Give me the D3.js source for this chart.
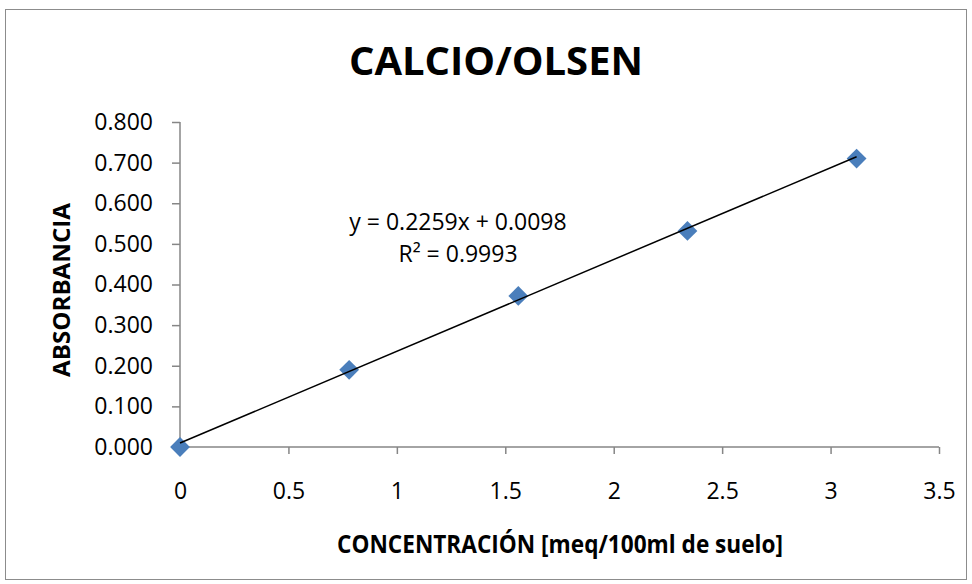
<!DOCTYPE html>
<html>
<head>
<meta charset="utf-8">
<script src="https://cdn.jsdelivr.net/npm/d3@7"></script>
<style>
  body { margin: 0; background: #fff; }
  text { font-family: "Open Sans", "Liberation Sans", sans-serif; fill: #000; }
</style>
</head>
<body>
<svg width="972" height="584"></svg>
<script>
let concentracion = [0, 0.78, 1.56, 2.34, 3.12];
let absorbancia = [0.000, 0.190, 0.372, 0.532, 0.710];
let xTicks = [0, 0.5, 1, 1.5, 2, 2.5, 3, 3.5];
let yTicks = [0, 0.1, 0.2, 0.3, 0.4, 0.5, 0.6, 0.7, 0.8];
let slope = 0.2259, intercept = 0.0098;

let svg = d3.select("svg");

svg.append("rect")
  .attr("x", 5.5).attr("y", 9.5)
  .attr("width", 961).attr("height", 570)
  .attr("fill", "#fff")
  .attr("stroke", "#8c8c8c")
  .attr("stroke-width", 1);

let xScale = d3.scaleLinear().domain([0, 3.5]).range([180, 939]),
  yScale = d3.scaleLinear().domain([0, 0.8]).range([447, 122]);

// title
svg.append("text")
  .attr("x", 496).attr("y", 75)
  .attr("text-anchor", "middle")
  .style("font-size", "40px")
  .style("font-weight", "bold")
  .text("CALCIO/OLSEN");

// axes
let xAxis = svg.append("g")
  .attr("transform", "translate(0," + yScale(0) + ")")
  .call(d3.axisBottom(xScale).tickValues(xTicks).tickSize(7).tickPadding(29).tickFormat(d3.format("")));

let yAxis = svg.append("g")
  .attr("transform", "translate(" + xScale(0) + ",0)")
  .call(d3.axisLeft(yScale).tickValues(yTicks).tickSize(8).tickPadding(19).tickFormat(d3.format(".3f")));

[xAxis, yAxis].forEach(function (ax) {
  ax.select(".domain").attr("stroke", "#868686").attr("stroke-width", 1.5);
  ax.selectAll(".tick line").attr("stroke", "#868686").attr("stroke-width", 1.5);
  ax.selectAll(".tick text")
    .style("font-size", "23px")
    .style("font-family", "'Open Sans', sans-serif")
    .attr("fill", "#000");
});
// plain domain lines, no outer ticks
xAxis.select(".domain").attr("d", "M" + xScale(0) + ",0H" + xScale(3.5));
yAxis.select(".domain").attr("d", "M0," + yScale(0) + "V" + yScale(0.8));

// axis titles
svg.append("text")
  .attr("x", 560).attr("y", 553)
  .attr("text-anchor", "middle")
  .attr("textLength", 446)
  .attr("lengthAdjust", "spacingAndGlyphs")
  .style("font-size", "25px")
  .style("font-weight", "bold")
  .text("CONCENTRACIÓN [meq/100ml de suelo]");

svg.append("text")
  .attr("transform", "translate(70,290) rotate(-90)")
  .attr("text-anchor", "middle")
  .attr("textLength", 174)
  .attr("lengthAdjust", "spacingAndGlyphs")
  .style("font-size", "24px")
  .style("font-weight", "bold")
  .text("ABSORBANCIA");

// points
let pts = concentracion.map(function (d, i) { return [d, absorbancia[i]]; });

svg.append("g")
  .selectAll("path")
  .data(pts)
  .enter()
  .append("path")
  .attr("d", d3.symbol().type(d3.symbolSquare).size(196))
  .attr("transform", function (d) {
    return "translate(" + xScale(d[0]) + "," + yScale(d[1]) + ") rotate(45)";
  })
  .attr("fill", "#4a7ebb");

// trend line
let xMin = d3.min(concentracion), xMax = d3.max(concentracion);
svg.append("line")
  .attr("x1", xScale(xMin)).attr("y1", yScale(slope * xMin + intercept))
  .attr("x2", xScale(xMax)).attr("y2", yScale(slope * xMax + intercept))
  .attr("stroke", "#000")
  .attr("stroke-width", 1.5);

// equation
svg.append("text")
  .attr("x", 458).attr("y", 230)
  .attr("text-anchor", "middle")
  .style("font-size", "23px")
  .text("y = 0.2259x + 0.0098");

svg.append("text")
  .attr("x", 458).attr("y", 262)
  .attr("text-anchor", "middle")
  .style("font-size", "23px")
  .text("R² = 0.9993");
</script>
</body>
</html>
